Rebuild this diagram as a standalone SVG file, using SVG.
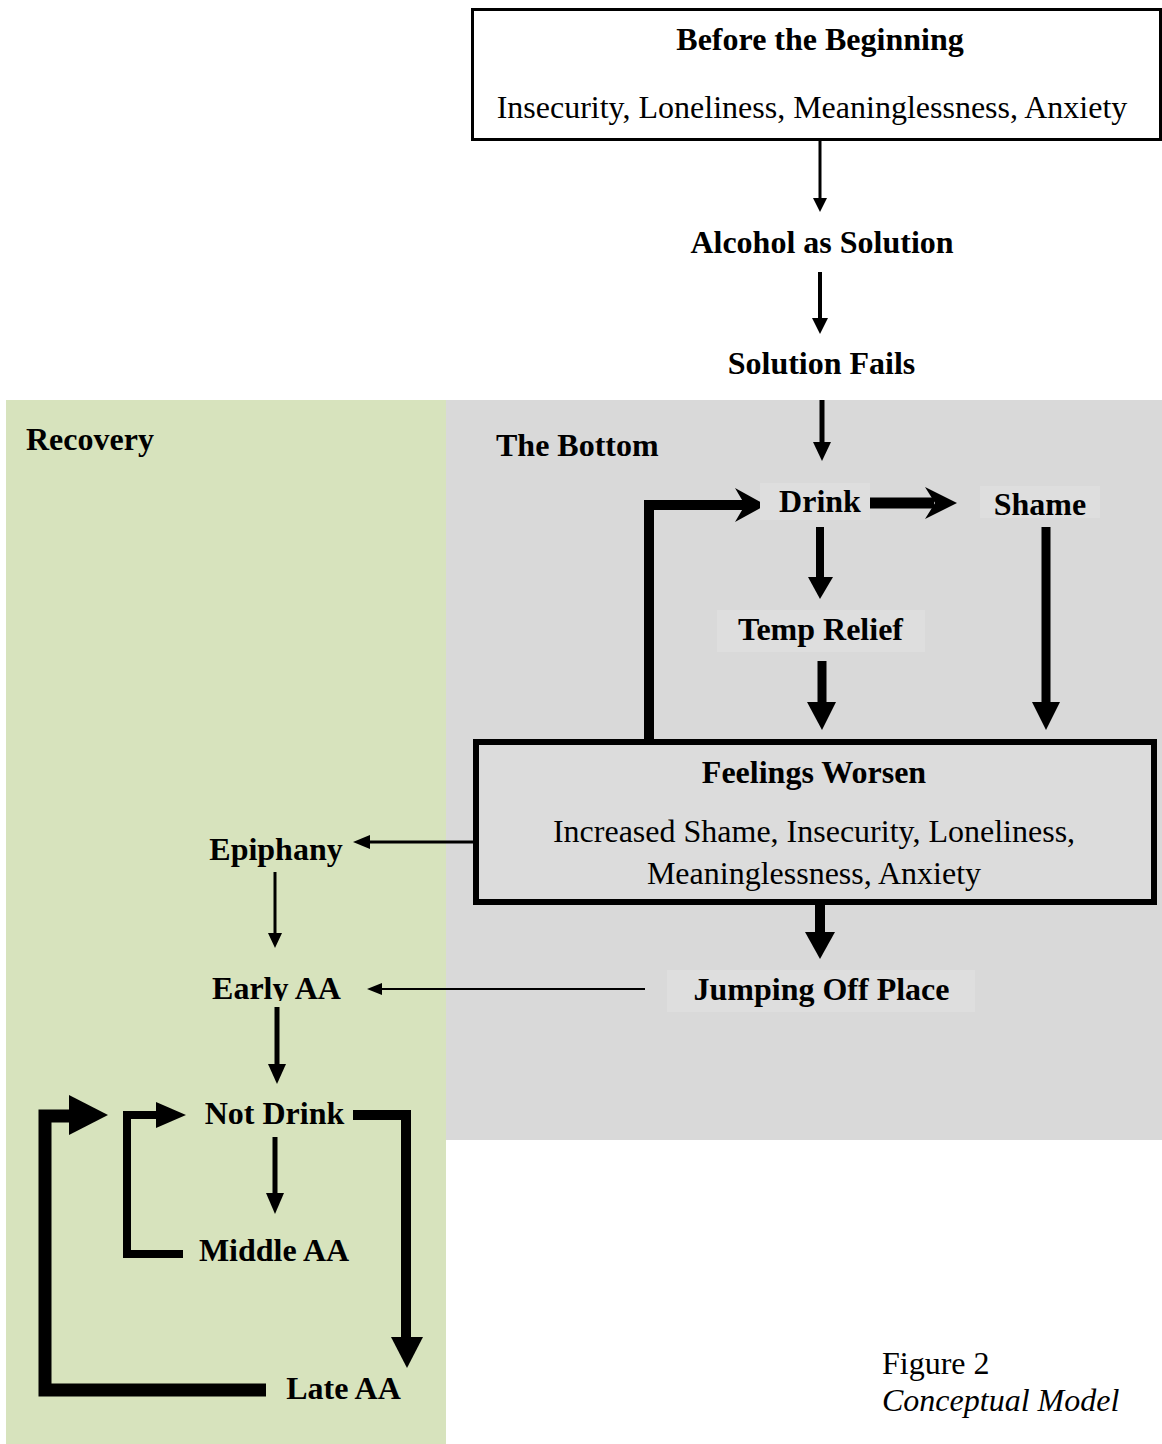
<svg xmlns="http://www.w3.org/2000/svg" width="1162" height="1444" viewBox="0 0 1162 1444">
<style>
text{font-family:"Liberation Serif","Times New Roman",serif;font-size:32px;fill:#000}
.b{font-weight:bold}
.c{text-anchor:middle}
.i{font-style:italic}
.ln{fill:none;stroke:#000;stroke-linejoin:miter;stroke-linecap:butt}
.hd{fill:#000}
.lbl{fill:#dedede}
</style>
<defs>
<clipPath id="clipEarly"><rect x="190" y="960" width="170" height="41"/></clipPath>
</defs>
<g id="regions">
<rect id="recovery-region" x="6" y="400" width="440" height="1044" fill="#d7e3bd"/>
<rect id="bottom-region" x="446" y="400" width="716" height="740" fill="#d9d9d9"/>
</g>
<g id="connectors">
<path class="ln" d="M820,140 V200" stroke-width="3"/>
<polygon class="hd" points="813,198 827,198 820,212"/>
<path class="ln" d="M820,272 V320" stroke-width="4"/>
<polygon class="hd" points="812,318 828,318 820,334"/>
<path class="ln" d="M822,400 V445" stroke-width="5"/>
<polygon class="hd" points="813,442 831,442 822,461"/>
<path class="ln" d="M869,503 H934" stroke-width="11"/>
<polygon class="hd" points="957,503 925,487 935,503 925,519"/>
<path class="ln" d="M649,739 V505 H745" stroke-width="10"/>
<polygon class="hd" points="766,505 735,488 745,505 735,522"/>
<path class="ln" d="M820,527 V580" stroke-width="8"/>
<polygon class="hd" points="808,577 833,577 820,599"/>
<path class="ln" d="M822,661 V705" stroke-width="9"/>
<polygon class="hd" points="807,702 836,702 822,730"/>
<path class="ln" d="M1046,527 V705" stroke-width="9"/>
<polygon class="hd" points="1032,702 1060,702 1046,730"/>
<path class="ln" d="M473,842 H368" stroke-width="3"/>
<polygon class="hd" points="370,835 370,849 353,842"/>
<path class="ln" d="M275,872 V935" stroke-width="3"/>
<polygon class="hd" points="268,933 282,933 275,948"/>
<path class="ln" d="M820,905 V935" stroke-width="10"/>
<polygon class="hd" points="805,932 835,932 820,959"/>
<path class="ln" d="M645,989 H380" stroke-width="2"/>
<polygon class="hd" points="382,983 382,995 367,989"/>
<path class="ln" d="M277,1007 V1066" stroke-width="5"/>
<polygon class="hd" points="268,1064 286,1064 277,1084"/>
<path class="ln" d="M275,1137 V1195" stroke-width="5"/>
<polygon class="hd" points="266,1193 284,1193 275,1214"/>
<path class="ln" d="M183,1254 H127 V1115 H160" stroke-width="8"/>
<polygon class="hd" points="156,1102 156,1128 186,1115"/>
<path class="ln" d="M353,1115 H406 V1340" stroke-width="10"/>
<polygon class="hd" points="391,1337 423,1337 407,1368"/>
<path class="ln" d="M266,1390 H45 V1116 H75" stroke-width="13"/>
<polygon class="hd" points="69,1095 69,1135 108,1115"/>
</g>
<g id="node-before">
<rect x="472.5" y="9.5" width="688" height="130" fill="#fff" stroke="#000" stroke-width="3"/>
<text class="b c" x="820" y="50">Before the Beginning</text>
<text class="c" x="812" y="118">Insecurity, Loneliness, Meaninglessness, Anxiety</text>
</g>
<g id="node-alcohol"><text class="b c" x="822" y="253">Alcohol as Solution</text></g>
<g id="node-fails"><text class="b c" x="821.5" y="374">Solution Fails</text></g>
<g id="label-recovery"><text class="b" x="26" y="450">Recovery</text></g>
<g id="label-bottom"><text class="b" x="496" y="456">The Bottom</text></g>
<g id="node-drink">
<rect class="lbl" x="760" y="483" width="110" height="37"/>
<text class="b c" x="820" y="512">Drink</text>
</g>
<g id="node-shame">
<rect class="lbl" x="980" y="486" width="120" height="32"/>
<text class="b c" x="1040" y="515">Shame</text>
</g>
<g id="node-temp">
<rect class="lbl" x="717" y="610" width="208" height="42"/>
<text class="b c" x="820.5" y="640">Temp Relief</text>
</g>
<g id="node-feelings">
<rect x="476" y="742" width="678" height="160" fill="#dcdcdc" stroke="#000" stroke-width="6"/>
<text class="b c" x="814" y="783">Feelings Worsen</text>
<text class="c" x="814" y="842">Increased Shame, Insecurity, Loneliness,</text>
<text class="c" x="814" y="884">Meaninglessness, Anxiety</text>
</g>
<g id="node-epiphany"><text class="b c" x="276" y="860">Epiphany</text></g>
<g id="node-jumping">
<rect class="lbl" x="667" y="970" width="308" height="42"/>
<text class="b c" x="821.5" y="1000">Jumping Off Place</text>
</g>
<g id="node-early"><text class="b c" x="276.5" y="999" clip-path="url(#clipEarly)">Early AA</text></g>
<g id="node-notdrink"><text class="b c" x="274.5" y="1124">Not Drink</text></g>
<g id="node-middle"><text class="b c" x="274" y="1261">Middle AA</text></g>
<g id="node-late"><text class="b c" x="343.5" y="1399">Late AA</text></g>
<g id="caption">
<text x="882" y="1374">Figure 2</text>
<text class="i" x="882" y="1411">Conceptual Model</text>
</g>
</svg>
